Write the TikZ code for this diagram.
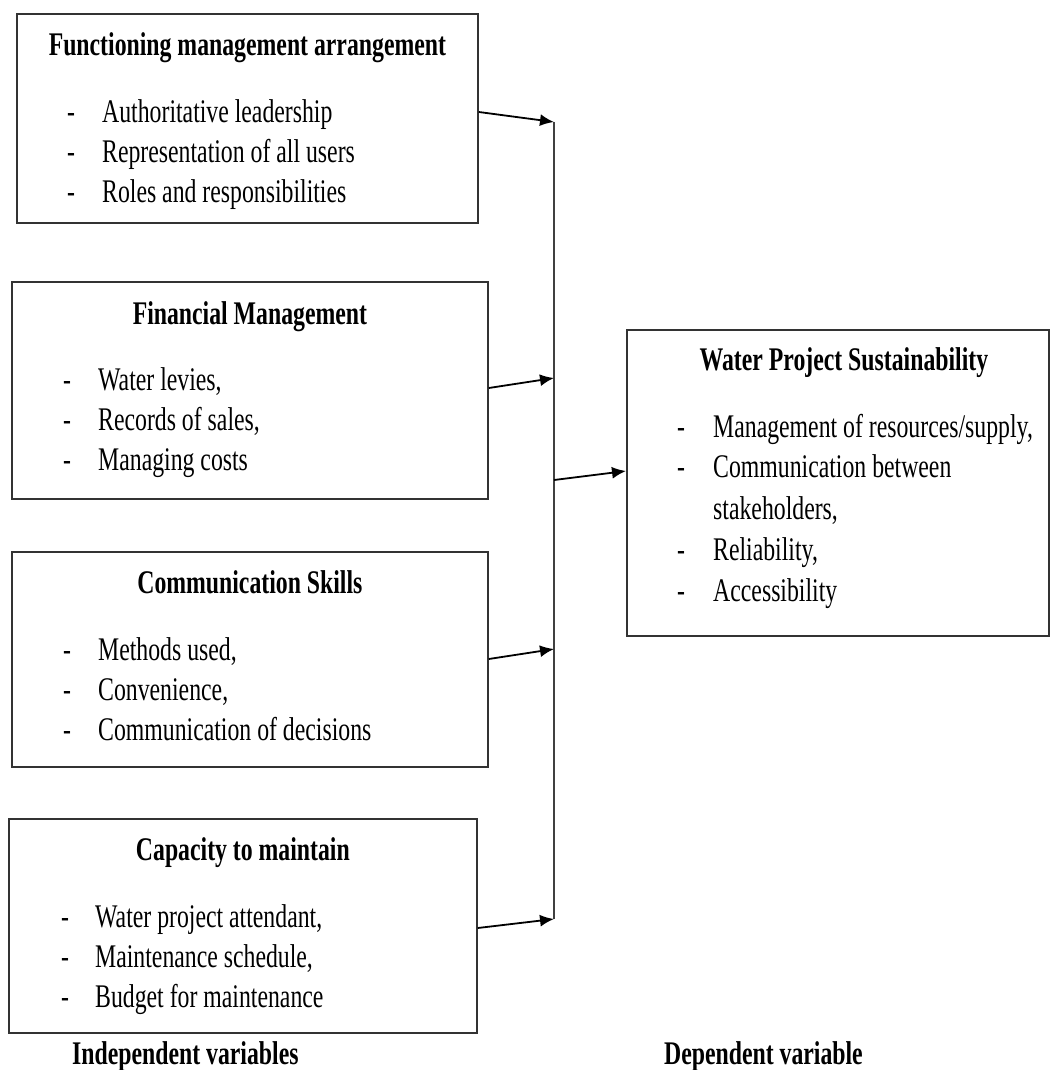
\documentclass[tikz,border=0pt]{standalone}
\usepackage{fontspec}
\setmainfont{Liberation Serif}[FakeStretch=0.72]
\usetikzlibrary{arrows.meta}
\begin{document}
\begin{tikzpicture}[x=1pt,y=-1pt,
  box/.style={draw=black!80, line width=1.8pt, rectangle, inner sep=0pt, anchor=north west},
  ttl/.style={font=\fontsize{33}{40}\selectfont\bfseries, anchor=base, inner sep=0pt},
  lbl/.style={font=\fontsize{33}{40}\selectfont\bfseries, inner sep=0pt},
  itm/.style={font=\fontsize{33}{40}\selectfont, anchor=base west, inner sep=0pt},
  vline/.style={draw=black!75, line width=1.6pt},
  arr/.style={draw=black, line width=1.8pt, -{Latex[length=14pt,width=12pt]}}]
\useasboundingbox (0,0) rectangle (1050,1070);

% boxes
\node[box, minimum width=461pt, minimum height=209pt] (b1) at (16,13) {};
\node[box, minimum width=476pt, minimum height=217pt] (b2) at (11,281) {};
\node[box, minimum width=476pt, minimum height=215pt] (b3) at (11,551) {};
\node[box, minimum width=468pt, minimum height=214pt] (b4) at (8,818) {};
\node[box, minimum width=422pt, minimum height=306pt] (b5) at (626,329) {};

% box 1
\node[ttl] (t1) at ([yshift=-43pt]b1.north) {Functioning management arrangement};
\node[itm] (d11) at ([xshift=51pt,yshift=-109pt]b1.north west) {-};
\node[itm] (i11) at ([xshift=86pt,yshift=-109pt]b1.north west) {Authoritative leadership};
\node[itm] (d12) at ([xshift=51pt,yshift=-149pt]b1.north west) {-};
\node[itm] (i12) at ([xshift=86pt,yshift=-149pt]b1.north west) {Representation of all users};
\node[itm] (d13) at ([xshift=51pt,yshift=-189pt]b1.north west) {-};
\node[itm] (i13) at ([xshift=86pt,yshift=-189pt]b1.north west) {Roles and responsibilities};

% box 2
\node[ttl] (t2) at ([yshift=-43pt]b2.north) {Financial Management};
\node[itm] (d21) at ([xshift=52pt,yshift=-109pt]b2.north west) {-};
\node[itm] (i21) at ([xshift=87pt,yshift=-109pt]b2.north west) {Water levies,};
\node[itm] (d22) at ([xshift=52pt,yshift=-149pt]b2.north west) {-};
\node[itm] (i22) at ([xshift=87pt,yshift=-149pt]b2.north west) {Records of sales,};
\node[itm] (d23) at ([xshift=52pt,yshift=-189pt]b2.north west) {-};
\node[itm] (i23) at ([xshift=87pt,yshift=-189pt]b2.north west) {Managing costs};

% box 3
\node[ttl] (t3) at ([yshift=-42pt]b3.north) {Communication Skills};
\node[itm] (d31) at ([xshift=52pt,yshift=-109pt]b3.north west) {-};
\node[itm] (i31) at ([xshift=87pt,yshift=-109pt]b3.north west) {Methods used,};
\node[itm] (d32) at ([xshift=52pt,yshift=-149pt]b3.north west) {-};
\node[itm] (i32) at ([xshift=87pt,yshift=-149pt]b3.north west) {Convenience,};
\node[itm] (d33) at ([xshift=52pt,yshift=-189pt]b3.north west) {-};
\node[itm] (i33) at ([xshift=87pt,yshift=-189pt]b3.north west) {Communication of decisions};

% box 4
\node[ttl] (t4) at ([yshift=-42pt]b4.north) {Capacity to maintain};
\node[itm] (d41) at ([xshift=53pt,yshift=-109pt]b4.north west) {-};
\node[itm] (i41) at ([xshift=87pt,yshift=-109pt]b4.north west) {Water project attendant,};
\node[itm] (d42) at ([xshift=53pt,yshift=-149pt]b4.north west) {-};
\node[itm] (i42) at ([xshift=87pt,yshift=-149pt]b4.north west) {Maintenance schedule,};
\node[itm] (d43) at ([xshift=53pt,yshift=-189pt]b4.north west) {-};
\node[itm] (i43) at ([xshift=87pt,yshift=-189pt]b4.north west) {Budget for maintenance};

% box 5
\node[ttl] (t5) at ([xshift=6pt,yshift=-41pt]b5.north) {Water Project Sustainability};
\node[itm] (d51) at ([xshift=51pt,yshift=-108pt]b5.north west) {-};
\node[itm] (i51) at ([xshift=87pt,yshift=-108pt]b5.north west) {Management of resources/supply,};
\node[itm] (d52) at ([xshift=51pt,yshift=-148pt]b5.north west) {-};
\node[itm] (i52) at ([xshift=87pt,yshift=-148pt]b5.north west) {Communication between};
\node[itm] (i52b) at ([xshift=87pt,yshift=-190pt]b5.north west) {stakeholders,};
\node[itm] (d53) at ([xshift=51pt,yshift=-231pt]b5.north west) {-};
\node[itm] (i53) at ([xshift=87pt,yshift=-231pt]b5.north west) {Reliability,};
\node[itm] (d54) at ([xshift=51pt,yshift=-272pt]b5.north west) {-};
\node[itm] (i54) at ([xshift=87pt,yshift=-272pt]b5.north west) {Accessibility};

% bottom labels
\node[lbl, anchor=base west] (indep) at (72,1064) {Independent variables};
\node[lbl, anchor=base east] (dep) at (863,1064) {Dependent variable};

% connectors
\coordinate (vtop) at (554,122);
\coordinate (v2) at (554,378);
\coordinate (vm) at (554,480);
\coordinate (v3) at (554,649);
\coordinate (vbot) at (554,919);
\draw[vline] (vtop) -- (vbot);
\draw[arr] ([yshift=-99pt]b1.north east) -- (vtop);
\draw[arr] ([yshift=-107pt]b2.north east) -- (v2);
\draw[arr] ([yshift=-108pt]b3.north east) -- (v3);
\draw[arr] ([yshift=-110pt]b4.north east) -- (vbot);
\draw[arr] (vm) -- ([yshift=-142pt]b5.north west);
\end{tikzpicture}
\end{document}
